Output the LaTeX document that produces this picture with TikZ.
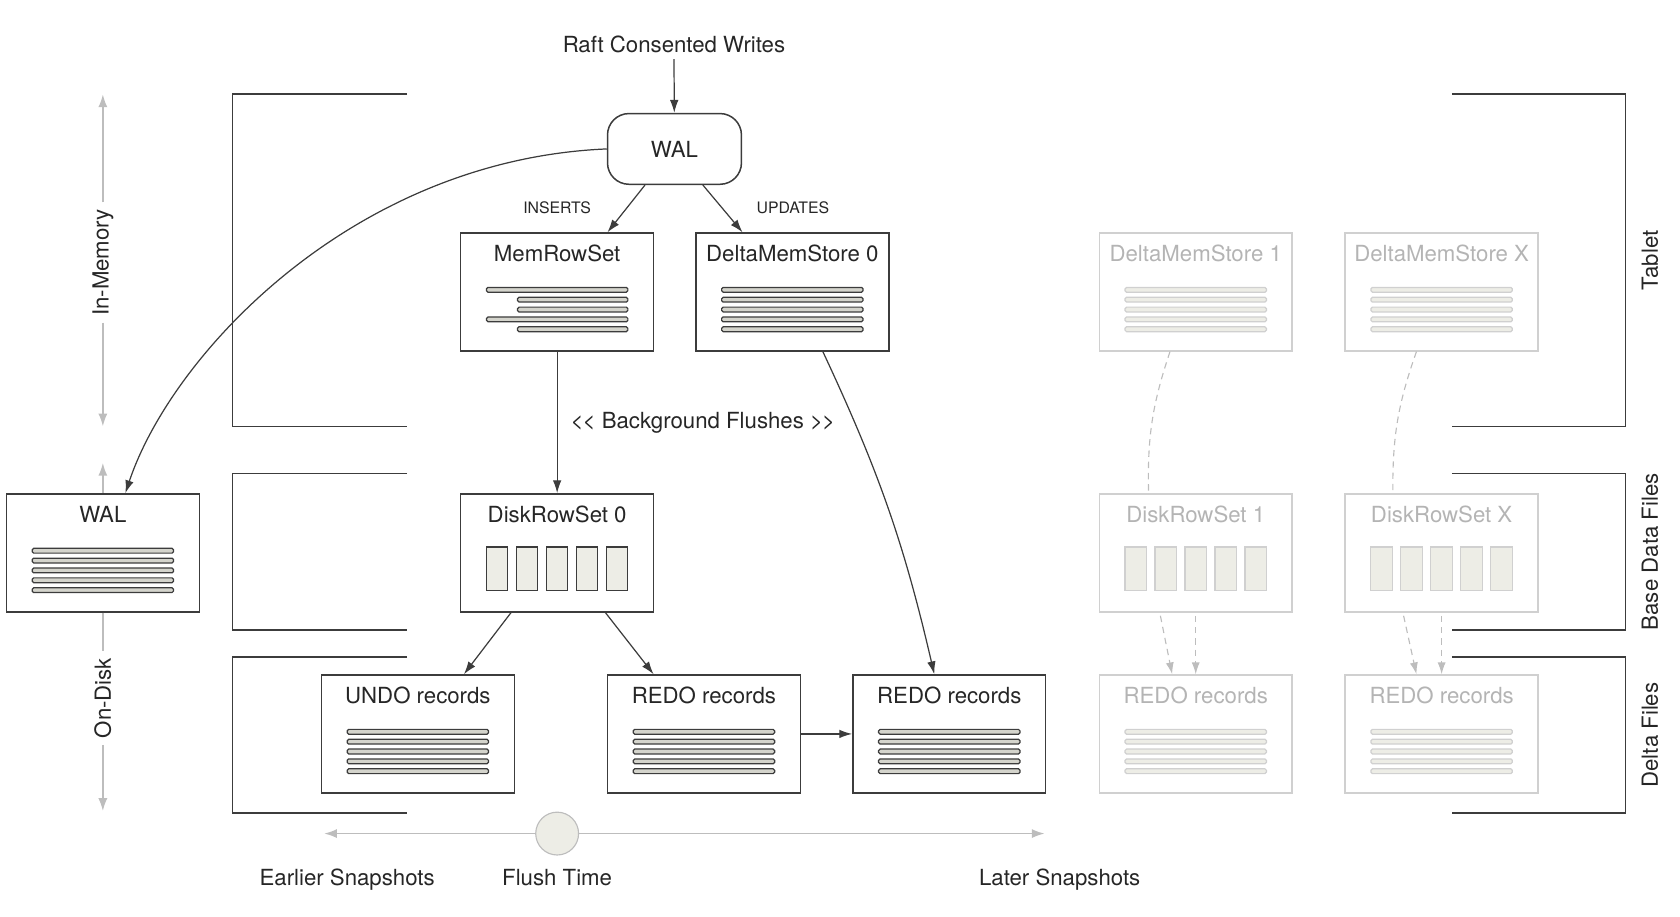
\documentclass[tikz,border=0pt]{standalone}
\usepackage{fontspec}
\setmainfont{TeX Gyre Heros}
\usetikzlibrary{arrows.meta}
\definecolor{scuro}{HTML}{3C3C3C}
\definecolor{grigio}{HTML}{BDBDBD}
\definecolor{chiaro}{HTML}{D0D0D0}
\definecolor{testochiaro}{HTML}{B4B4B4}
\definecolor{riempibar}{HTML}{D4D4CC}
\definecolor{riempichiaro}{HTML}{EDEDE6}

\begin{document}
\begin{tikzpicture}[font=\fontsize{11.8}{14}\selectfont,text=black!85]
% definizione degli stili dei riquadri
\tikzset{mybox/.style={rectangle,draw=scuro,line width=0.8pt,minimum width=3.6cm,minimum height=2.2cm}}
\tikzset{myfaded/.style={mybox,draw=chiaro}}
% definizione delle barre e delle colonne
\tikzset{mybar/.style={draw=scuro,fill=riempibar,line width=0.65pt,rounded corners=0.8pt}}
\tikzset{myfadedbar/.style={draw=chiaro,fill=riempichiaro,line width=0.65pt,rounded corners=0.8pt}}
\tikzset{mycol/.style={draw=scuro,fill=riempichiaro,line width=0.6pt}}
\tikzset{myfadedcol/.style={draw=chiaro,fill=riempichiaro,line width=0.6pt}}
% definizione delle frecce
\tikzset{myarrow/.style={-{Latex[length=2.4mm,width=1.6mm]},draw=scuro,line width=0.65pt}}
\tikzset{mygrayarrow/.style={-{Latex[length=2.4mm,width=1.7mm]},draw=grigio,line width=0.9pt}}
\tikzset{mygrayline/.style={draw=grigio,line width=0.9pt}}
\tikzset{mydashed/.style={draw=grigio,line width=0.6pt,dash pattern=on 1.2mm off 0.9mm}}
\tikzset{mydashedarrow/.style={mydashed,-{Latex[length=2.2mm,width=1.5mm]}}}
\tikzset{mybracket/.style={draw=scuro,line width=0.85pt}}

\useasboundingbox (0,0) rectangle (31.36,-17.1);

%----
% inserimento WAL in alto
\node (raft) at (12.58,-0.82) {Raft Consented Writes};
\node[draw=scuro,line width=0.8pt,rounded corners=0.4cm,minimum width=2.5cm,minimum height=1.32cm] (wal) at (12.59,-2.78) {WAL};

% inserimento riquadri attivi
\foreach \n/\x/\y in {mrs/10.4/-5.45, dms0/14.79/-5.45, walbox/1.92/-10.32, drs0/10.4/-10.32, undo/7.8/-13.7, redo0/13.14/-13.7, redo1/17.72/-13.7}
\node[mybox] (\n) at (\x,\y) {};
% inserimento riquadri sbiaditi
\foreach \n/\x/\y in {dms1/22.32/-5.45, dmsx/26.91/-5.45, drs1/22.32/-10.32, drsx/26.91/-10.32, redo2/22.32/-13.7, redox/26.91/-13.7}
\node[myfaded] (\n) at (\x,\y) {};

% inserimento titoli
\foreach \n/\t in {mrs/MemRowSet, dms0/DeltaMemStore 0, walbox/WAL, drs0/DiskRowSet 0, undo/UNDO records, redo0/REDO records, redo1/REDO records}
\node (\n-t) at ([yshift=-0.4cm]\n.north) {\t};
\foreach \n/\t in {dms1/DeltaMemStore 1, dmsx/DeltaMemStore X, drs1/DiskRowSet 1, drsx/DiskRowSet X, redo2/REDO records, redox/REDO records}
\node[text=testochiaro] (\n-t) at ([yshift=-0.4cm]\n.north) {\t};

% inserimento barre orizzontali
\foreach \n in {dms0,walbox,undo,redo0,redo1}
\foreach \i in {0,...,4}
\draw[mybar] ([xshift=-1.32cm,yshift={0.085cm-\i*0.184cm}]\n.center) rectangle ++(2.64,-0.09);
\foreach \n in {dms1,dmsx,redo2,redox}
\foreach \i in {0,...,4}
\draw[myfadedbar] ([xshift=-1.32cm,yshift={0.085cm-\i*0.184cm}]\n.center) rectangle ++(2.64,-0.09);
% barre della MemRowSet
\foreach \i/\s in {0/-1.32,1/-0.74,2/-0.74,3/-1.32,4/-0.74}
\draw[mybar] ([xshift=\s cm,yshift={0.085cm-\i*0.184cm}]mrs.center) rectangle ([xshift=1.32cm,yshift={-0.005cm-\i*0.184cm}]mrs.center);

% inserimento colonne delle DiskRowSet
\foreach \c in {-1.12,-0.56,0,0.56,1.12}
\draw[mycol] ([xshift={(\c-0.2)*1cm},yshift=0.11cm]drs0.center) rectangle ++(0.4,-0.82);
\foreach \n in {drs1,drsx}
\foreach \c in {-1.12,-0.56,0,0.56,1.12}
\draw[myfadedcol] ([xshift={(\c-0.2)*1cm},yshift=0.11cm]\n.center) rectangle ++(0.4,-0.82);

% inserimento frecce principali
\draw[myarrow] (raft) -- (wal);
\draw[myarrow] ([xshift=-0.55cm]wal.south) -- ([xshift=0.94cm]mrs.north);
\draw[myarrow] ([xshift=0.53cm]wal.south) -- ([xshift=-0.93cm]dms0.north);
\node[font=\fontsize{8.4}{10}\selectfont] (ins) at (10.4,-3.88) {INSERTS};
\node[font=\fontsize{8.4}{10}\selectfont] (upd) at (14.8,-3.88) {UPDATES};
\draw[myarrow] (mrs) -- (drs0);
\node (bgflush) at (13.12,-7.9) {<\kern-0.5pt< Background Flushes >\kern-0.5pt>};
\draw[myarrow] ([xshift=0.57cm]dms0.south) to[bend left=6] ([xshift=-0.28cm]redo1.north);
\draw[myarrow] (wal.west) .. controls +(-4.74,-0.2) and +(0.86,2.58) .. ([xshift=0.42cm]walbox.north);
\draw[myarrow] ([xshift=-0.86cm]drs0.south) -- ([xshift=0.86cm]undo.north);
\draw[myarrow] ([xshift=0.9cm]drs0.south) -- ([xshift=-0.94cm]redo0.north);
\draw[myarrow] (redo0) -- (redo1);

% inserimento path tratteggiati
\draw[mydashed] ([xshift=-0.48cm]dms1.south) to[bend right=10] ([xshift=-0.88cm]drs1.north);
\draw[mydashed] ([xshift=-0.47cm]dmsx.south) to[bend right=10] ([xshift=-0.91cm]drsx.north);
\draw[mydashedarrow] ([xshift=-0.66cm,yshift=-0.06cm]drs1.south) -- ([xshift=-0.44cm]redo2.north);
\draw[mydashedarrow] ([yshift=-0.06cm]drs1.south) -- (redo2.north);
\draw[mydashedarrow] ([xshift=-0.71cm,yshift=-0.06cm]drsx.south) -- ([xshift=-0.47cm]redox.north);
\draw[mydashedarrow] ([yshift=-0.06cm]drsx.south) -- (redox.north);

% inserimento frecce grigie a sinistra
\coordinate (memtop) at (1.92,-1.76);
\coordinate (membot) at (1.92,-7.96);
\node[rotate=90] (inmem) at (1.92,-4.9) {In-Memory};
\draw[mygrayarrow] (inmem) -- (memtop);
\draw[mygrayarrow] (inmem) -- (membot);
\coordinate (disktop) at (1.92,-8.64);
\coordinate (diskbot) at (1.92,-15.14);
\node[rotate=90] (ondisk) at (1.92,-13.03) {On-Disk};
\draw[mygrayarrow] (walbox) -- (disktop);
\draw[mygrayline] (walbox) -- (ondisk);
\draw[mygrayarrow] (ondisk) -- (diskbot);

% inserimento parentesi
\foreach \a/\b in {-1.76/-7.96, -8.84/-11.76, -12.26/-15.18}
\draw[mybracket] (7.6,\a) -- (4.34,\a) -- (4.34,\b) -- (7.6,\b);
\foreach \a/\b in {-1.76/-7.96, -8.84/-11.76, -12.26/-15.18}
\draw[mybracket] (27.1,\a) -- (30.34,\a) -- (30.34,\b) -- (27.1,\b);
% inserimento label a destra
\foreach \n/\y/\t in {tab/-4.86/Tablet, base/-10.3/Base Data Files, delta/-13.72/Delta Files}
\node[rotate=90] (\n) at (30.8,\y) {\t};

% inserimento linea del tempo
\node[circle,draw=grigio,fill=riempichiaro,minimum size=0.8cm,inner sep=0pt,line width=0.6pt] (flush) at (10.4,-15.56) {};
\coordinate (early) at (6.05,-15.56);
\coordinate (late) at (19.5,-15.56);
\draw[mygrayarrow] (flush) -- (early);
\draw[mygrayarrow] (flush) -- (late);
\foreach \n/\x/\t in {early-t/6.48/Earlier Snapshots, flush-t/10.4/Flush Time, late-t/19.78/Later Snapshots}
\node[anchor=base] (\n) at (\x,-16.52) {\t};
\end{tikzpicture}
\end{document}
